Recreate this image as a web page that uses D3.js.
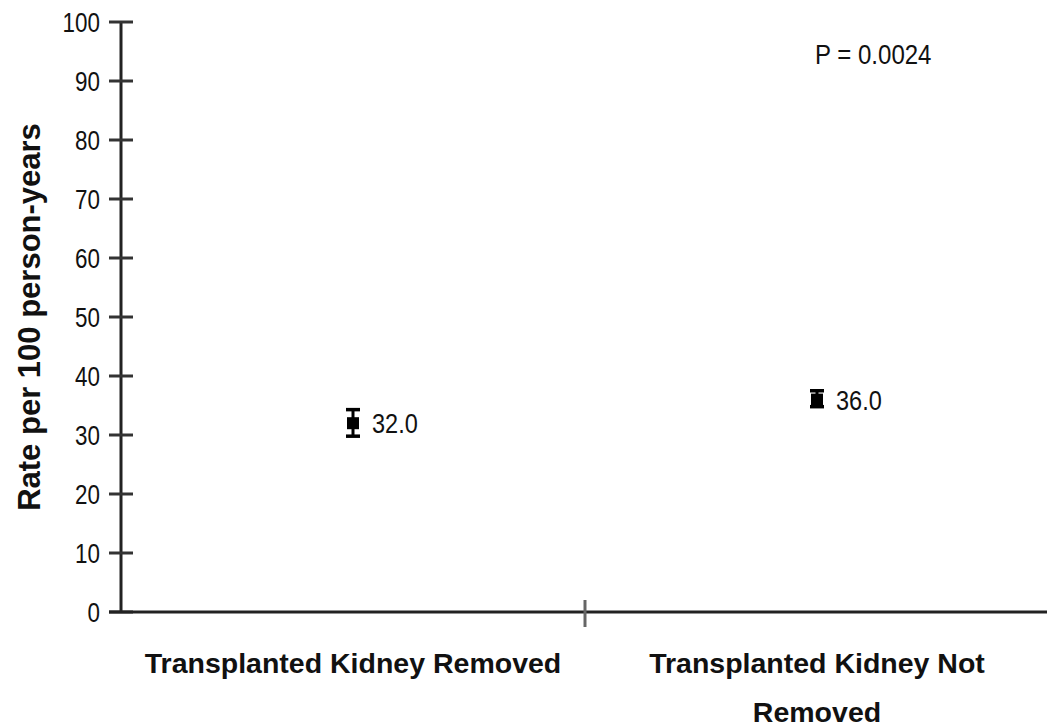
<!DOCTYPE html>
<html lang="en">
<head>
    <meta charset="UTF-8">
    <title>Rate per 100 person-years</title>
    <style>
        body { margin: 0; background: #fff; }
        svg { display: block; }
        text { font-family: "Liberation Sans", Arial, sans-serif; fill: #111; }
    </style>
    <script src="https://d3js.org/d3.v7.min.js"></script>
</head>
<body>
    <svg width="1047" height="728"></svg>
    <script>
        // data
        const categories = ['Transplanted Kidney Removed', 'Transplanted Kidney Not Removed'];
        const rates = [32.0, 36.0];
        const lower = [29.8, 34.8];
        const upper = [34.3, 37.5];
        const yTicks = [0, 10, 20, 30, 40, 50, 60, 70, 80, 90, 100];
        const pText = 'P = 0.0024';

        const svg = d3.select('svg');

        const x = d3.scaleBand().domain(categories).range([121, 1049]);
        const y = d3.scaleLinear().domain([0, 100]).range([612, 22]);

        // numbers in the source are tall and narrow, so squeeze them a bit
        function squeeze(sel, factor) {
            sel.each(function () {
                const w = this.getComputedTextLength();
                d3.select(this)
                    .attr('textLength', w * factor)
                    .attr('lengthAdjust', 'spacingAndGlyphs');
            });
        }

        // y axis
        const yAxis = svg.append('g').attr('transform', 'translate(121,0)');
        yAxis.append('line')
            .attr('y1', y(0)).attr('y2', y(100))
            .attr('stroke', '#222').attr('stroke-width', 3);
        yAxis.selectAll('.tick').data(yTicks).enter().append('line')
            .attr('x1', -12).attr('x2', 12)
            .attr('y1', d => y(d)).attr('y2', d => y(d))
            .attr('stroke', '#333').attr('stroke-width', 3);
        yAxis.selectAll('.lbl').data(yTicks).enter().append('text')
            .attr('x', -21).attr('y', d => y(d))
            .attr('dy', '0.36em')
            .attr('text-anchor', 'end')
            .attr('font-size', 28)
            .text(d => d)
            .call(squeeze, 0.8);

        // x axis
        svg.append('line')
            .attr('x1', 109).attr('x2', 1047)
            .attr('y1', y(0)).attr('y2', y(0))
            .attr('stroke', '#222').attr('stroke-width', 3);
        svg.append('line')
            .attr('x1', x(categories[1])).attr('x2', x(categories[1]))
            .attr('y1', y(0) - 12).attr('y2', y(0) + 15)
            .attr('stroke', '#666').attr('stroke-width', 3);

        // category labels
        const catLines = [['Transplanted Kidney Removed'], ['Transplanted Kidney Not', 'Removed']];
        categories.forEach((c, i) => {
            catLines[i].forEach((l, j) => {
                svg.append('text')
                    .attr('x', x(c) + x.bandwidth() / 2)
                    .attr('y', 673 + j * 49)
                    .attr('text-anchor', 'middle')
                    .attr('font-size', 28.5)
                    .attr('font-weight', 'bold')
                    .text(l);
            });
        });

        // y label
        svg.append('text')
            .attr('transform', `translate(40,${(y(0) + y(100)) / 2}) rotate(-90)`)
            .attr('text-anchor', 'middle')
            .attr('font-size', 31)
            .attr('font-weight', 'bold')
            .text('Rate per 100 person-years');

        // points with error bars
        const pts = svg.append('g');
        categories.forEach((c, i) => {
            const cx = x(c) + x.bandwidth() / 2;
            const g = pts.append('g');
            g.append('line')
                .attr('x1', cx).attr('x2', cx)
                .attr('y1', y(lower[i])).attr('y2', y(upper[i]))
                .attr('stroke', '#000').attr('stroke-width', 3);
            [lower[i], upper[i]].forEach(v => {
                g.append('line')
                    .attr('x1', cx - 7).attr('x2', cx + 7)
                    .attr('y1', y(v)).attr('y2', y(v))
                    .attr('stroke', '#000').attr('stroke-width', 3.5);
            });
            g.append('rect')
                .attr('x', cx - 6).attr('y', y(rates[i]) - 6)
                .attr('width', 12).attr('height', 12)
                .attr('fill', '#000');
            g.append('text')
                .attr('x', cx + 19).attr('y', y(rates[i]))
                .attr('dy', '0.36em')
                .attr('font-size', 28)
                .text(rates[i].toFixed(1))
                .call(squeeze, 0.84);
        });

        // p value
        svg.append('text')
            .attr('x', 815).attr('y', 64)
            .attr('font-size', 27)
            .text(pText)
            .call(squeeze, 0.89);
    </script>
</body>
</html>
